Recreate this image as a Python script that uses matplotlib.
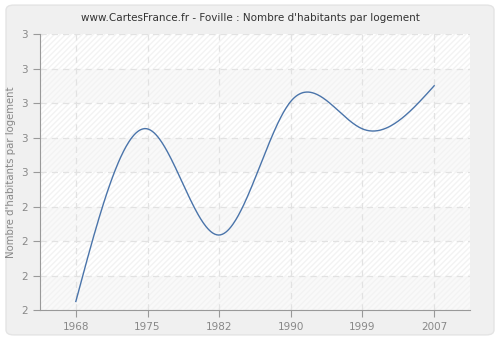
import numpy as np
import matplotlib
matplotlib.use("Agg")
from matplotlib import pyplot as plt
from matplotlib.patches import FancyBboxPatch, Rectangle

years = ["1968", "1975", "1982", "1990", "1999", "2007"]
values = [1.85, 2.85, 2.235, 3.01, 2.85, 3.10]
y_ticks = [1.8, 2.0, 2.2, 2.4, 2.6, 2.8, 3.0, 3.2, 3.4]


def natural_spline(x, y, n=400):
    # plain natural cubic spline, no scipy
    x = np.asarray(x, float)
    y = np.asarray(y, float)
    k = len(x)
    h = np.diff(x)
    A = np.zeros((k, k))
    b = np.zeros(k)
    A[0, 0] = A[-1, -1] = 1
    for i in range(1, k - 1):
        A[i, i - 1] = h[i - 1]
        A[i, i] = 2 * (h[i - 1] + h[i])
        A[i, i + 1] = h[i]
        b[i] = 6 * ((y[i + 1] - y[i]) / h[i] - (y[i] - y[i - 1]) / h[i - 1])
    m = np.linalg.solve(A, b)
    xs = np.linspace(x[0], x[-1], n)
    ys = np.empty_like(xs)
    for j, t in enumerate(xs):
        i = min(np.searchsorted(x, t, side="right") - 1, k - 2)
        a = x[i + 1] - t
        c = t - x[i]
        ys[j] = (m[i] * a**3 + m[i + 1] * c**3) / (6 * h[i]) \
            + (y[i] / h[i] - m[i] * h[i] / 6) * a \
            + (y[i + 1] / h[i] - m[i + 1] * h[i] / 6) * c
    return xs, ys


fig = plt.figure(figsize=(5, 3.4), dpi=100, facecolor="white")
fig.patches.append(FancyBboxPatch((0.012, 0.015), 0.976, 0.97,
                                  boxstyle="round,pad=0,rounding_size=0.015",
                                  transform=fig.transFigure, facecolor="#f0f0f0",
                                  edgecolor="#e4e4e4", linewidth=1, zorder=-10))

ax = fig.add_axes([0.08, 0.088, 0.86, 0.812])
ax.set_facecolor("white")
ax.set_xlim(-0.5, len(years) - 0.5)
ax.set_ylim(y_ticks[0], y_ticks[-1])

# alternating bands + hatching
for i in range(len(y_ticks) - 1):
    if i % 2 == 0:
        ax.axhspan(y_ticks[i], y_ticks[i + 1], color="#f9f9f9", lw=0, zorder=0)
ax.add_patch(Rectangle((0, 0), 1, 1, transform=ax.transAxes, fill=False,
                       hatch="//////", edgecolor="#f3f3f3", lw=0, zorder=0.5))

xs, ys = natural_spline(range(len(years)), values)
ax.plot(xs, ys, color="#4a74aa", lw=1, zorder=3)

ax.set_xticks(range(len(years)))
ax.set_xticklabels(years)
ax.set_yticks(y_ticks)
ax.set_yticklabels(["%.0f" % v for v in y_ticks])
ax.grid(True, color="#e2e2e2", linestyle=(0, (5, 4)), lw=0.9, zorder=1)
ax.set_axisbelow(True)

for s in ["top", "right"]:
    ax.spines[s].set_visible(False)
for s in ["left", "bottom"]:
    ax.spines[s].set_color("#999999")
ax.tick_params(colors="#999999", labelcolor="#888888", labelsize=7.5, length=5, width=0.8)

ax.set_ylabel("Nombre d'habitants par logement", color="#888888", fontsize=7.3)
ax.yaxis.set_label_coords(-0.055, 0.5)
fig.text(0.5, 0.948, "www.CartesFrance.fr - Foville : Nombre d'habitants par logement",
         ha="center", va="center", fontsize=7.5, color="#333333")

fig.savefig("out.png", dpi=100, facecolor=fig.get_facecolor())
